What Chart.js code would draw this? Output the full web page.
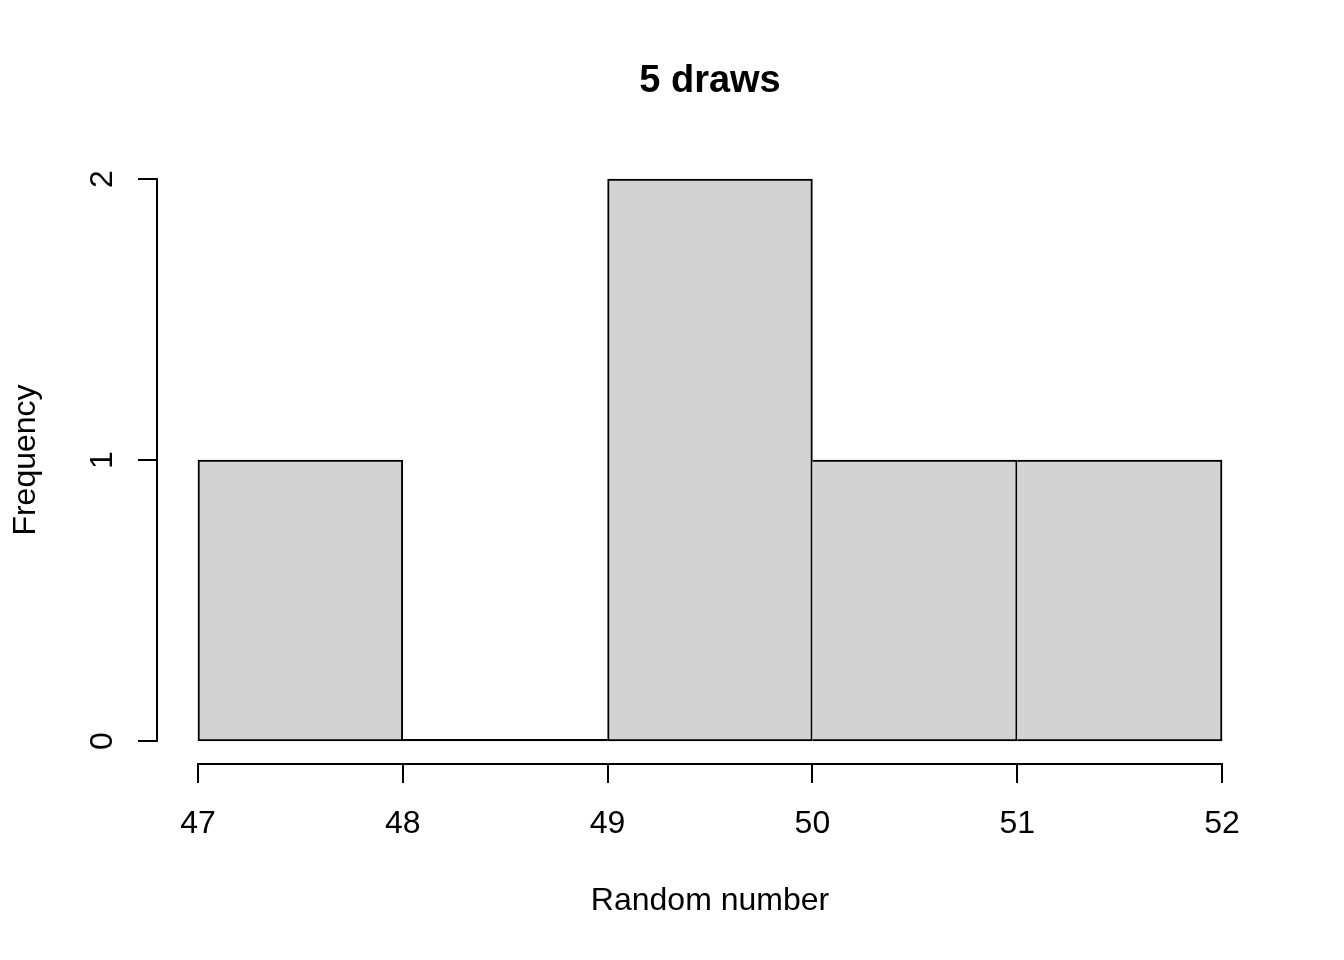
<!DOCTYPE html>
<html><head><meta charset="utf-8">
<script src="https://cdn.jsdelivr.net/npm/chart.js@4"></script>
<style>html,body{margin:0;padding:0;background:#fff}canvas{display:block}</style>
</head><body>
<canvas id="c" width="1344" height="960"></canvas>
<script>
// ---- data ----
const binEdges = [47, 48, 49, 50, 51, 52];
const counts = [1, 0, 2, 1, 1];
const xTicks = [47, 48, 49, 50, 51, 52];
const yTicks = [0, 1, 2];
const titleText = '5 draws';
const xLabel = 'Random number';
const yLabel = 'Frequency';

const FONT = '"Liberation Sans", Arial, Helvetica, sans-serif';
const barData = counts.map((c, i) => ({ x: (binEdges[i] + binEdges[i + 1]) / 2, y: c }));

const xMin = binEdges[0], xMax = binEdges[binEdges.length - 1];
const xPad = (xMax - xMin) * 0.04;
const yMaxV = Math.max(...yTicks);
const yPad = yMaxV * 0.04;

const rBase = {
  id: 'rBase',
  afterDatasetsDraw(chart) {
    const ctx = chart.ctx, xs = chart.scales.x, ys = chart.scales.y, a = chart.chartArea;
    ctx.save();
    ctx.fillStyle = '#000';
    // zero-height bins: bottom edge only
    counts.forEach((c, i) => {
      if (c === 0) {
        const x0 = xs.getPixelForValue(binEdges[i]), x1 = xs.getPixelForValue(binEdges[i + 1]);
        const y0 = ys.getPixelForValue(0);
        ctx.fillRect(x0, y0 - 2, x1 - x0, 2);
      }
    });
    ctx.strokeStyle = '#000';
    ctx.lineWidth = 2;
    ctx.lineCap = 'butt';
    // x axis
    const xa = Math.round(a.bottom);
    ctx.beginPath();
    ctx.moveTo(Math.round(xs.getPixelForValue(xTicks[0])) - 1, xa);
    ctx.lineTo(Math.round(xs.getPixelForValue(xTicks[xTicks.length - 1])) + 1, xa);
    xTicks.forEach(t => {
      const p = Math.round(xs.getPixelForValue(t));
      ctx.moveTo(p, xa); ctx.lineTo(p, xa + 19);
    });
    ctx.stroke();
    // y axis
    const ya = Math.round(a.left);
    ctx.beginPath();
    ctx.moveTo(ya, Math.round(ys.getPixelForValue(yTicks[0])) + 1);
    ctx.lineTo(ya, Math.round(ys.getPixelForValue(yTicks[yTicks.length - 1])) - 1);
    yTicks.forEach(t => {
      const p = Math.round(ys.getPixelForValue(t));
      ctx.moveTo(ya, p); ctx.lineTo(ya - 19, p);
    });
    ctx.stroke();
    // tick labels
    ctx.font = '32px ' + FONT;
    ctx.textAlign = 'center';
    ctx.textBaseline = 'alphabetic';
    xTicks.forEach(t => {
      ctx.fillText(String(t), xs.getPixelForValue(t), a.bottom + 69.5);
    });
    yTicks.forEach(t => {
      ctx.save();
      ctx.translate(a.left - 45, ys.getPixelForValue(t));
      ctx.rotate(-Math.PI / 2);
      ctx.fillText(String(t), 0, 0);
      ctx.restore();
    });
    const cx = (a.left + a.right) / 2, cy = (a.top + a.bottom) / 2;
    // axis titles
    ctx.fillText(xLabel, cx, a.bottom + 146.5);
    ctx.save();
    ctx.translate(a.left - 122, cy);
    ctx.rotate(-Math.PI / 2);
    ctx.fillText(yLabel, 0, 0);
    ctx.restore();
    // main title
    ctx.font = 'bold 38px ' + FONT;
    ctx.fillText(titleText, cx, 92);
    ctx.restore();
  }
};

new Chart(document.getElementById('c'), {
  type: 'bar',
  data: {
    datasets: [{
      data: barData,
      backgroundColor: '#D3D3D3',
      borderColor: '#000000',
      borderSkipped: false,
      borderWidth: (ctx) => {
        const i = ctx.dataIndex;
        if (i === undefined) return 2;
        const cur = counts[i];
        const prev = i > 0 ? counts[i - 1] : 0;
        const next = i < counts.length - 1 ? counts[i + 1] : 0;
        return {
          top: 2, bottom: 2,
          left: (prev > 0 && prev >= cur) ? 0 : 2,
          right: (next > cur) ? 0 : 2
        };
      },
      barPercentage: 1,
      categoryPercentage: 1
    }]
  },
  options: {
    responsive: false,
    animation: false,
    events: [],
    layout: { padding: { left: 157, top: 156.5, right: 81, bottom: 196.5 } },
    plugins: { legend: { display: false }, tooltip: { enabled: false }, title: { display: false } },
    scales: {
      x: { type: 'linear', offset: false, min: xMin - xPad, max: xMax + xPad, display: false },
      y: { type: 'linear', min: -yPad, max: yMaxV + yPad, display: false }
    }
  },
  plugins: [rBase]
});
</script>
</body></html>
